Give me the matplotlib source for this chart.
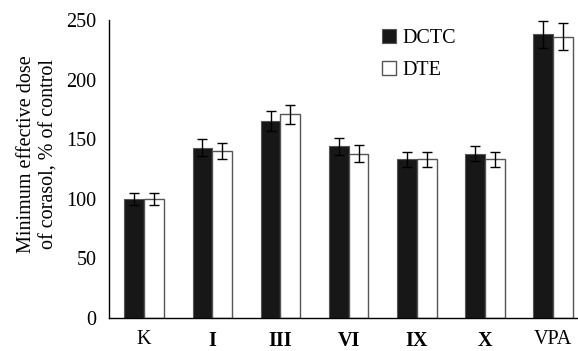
import numpy as np
import matplotlib.pyplot as plt

plt.rcParams['font.family'] = ['Liberation Serif', 'DejaVu Serif']

groups = ['K', 'I', 'III', 'VI', 'IX', 'X', 'VPA']
bold_groups = ['I', 'III', 'VI', 'IX', 'X']
dctc = [100, 143, 165, 144, 133, 138, 238]
dctc_err = [5, 7, 8.5, 7, 6.5, 6, 11.5]
dte = [100, 140, 171, 138, 133, 133, 236]
dte_err = [5, 7, 8, 7, 6.5, 6.5, 11.5]

x = np.arange(len(groups))
width = 0.29
fs = 14.5

fig = plt.figure(figsize=(5.78, 3.51), dpi=100)
ax = fig.add_axes([109 / 578, 33 / 351, (577 - 109) / 578, 298 / 351])

ax.bar(x - width / 2, dctc, width, color='#171717', edgecolor='#555555', linewidth=0.8,
       yerr=dctc_err, capsize=3.5, error_kw=dict(elinewidth=1, capthick=1, ecolor='black'),
       label='DCTC')
ax.bar(x + width / 2, dte, width, color='white', edgecolor='#555555', linewidth=1,
       yerr=dte_err, capsize=3.5, error_kw=dict(elinewidth=1, capthick=1, ecolor='black'),
       label='DTE')

ax.set_xlim(-0.515, 6.35)
ax.set_ylim(0, 250)
ax.set_yticks([0, 50, 100, 150, 200, 250])
ax.set_xticks(x)
ax.set_xticklabels(groups)
for lbl in ax.get_xticklabels():
    if lbl.get_text() in bold_groups:
        lbl.set_fontweight('bold')
ax.tick_params(axis='both', length=0, labelsize=fs)
ax.tick_params(axis='x', pad=9)
ax.tick_params(axis='y', pad=9)

for s in ['top', 'right']:
    ax.spines[s].set_visible(False)
ax.spines['left'].set_linewidth(1)
ax.spines['bottom'].set_linewidth(1)

ax.set_ylabel('Minimum effective dose\nof corasol, % of control', fontsize=fs,
              linespacing=1.3)
ax.yaxis.set_label_coords(-0.107, 0.55)

ax.legend(loc='upper left', bbox_to_anchor=(0.545, 1.03), frameon=False, fontsize=fs,
          handlelength=0.7, handleheight=0.7, handletextpad=0.3, labelspacing=0.65)

fig.savefig('out.png', dpi=100)
